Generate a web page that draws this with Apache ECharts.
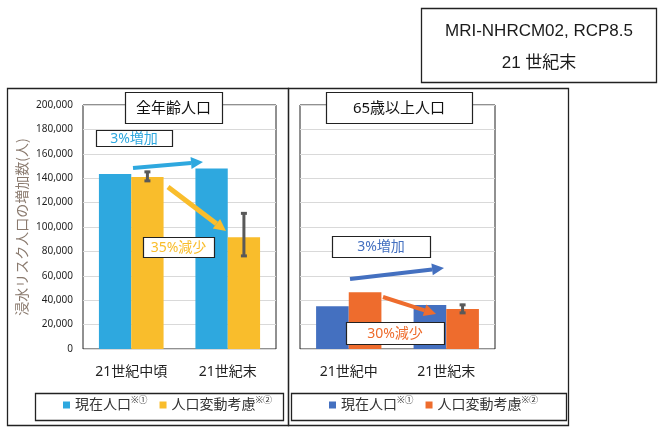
<!DOCTYPE html>
<html>
<head>
    <meta charset="utf-8">
    <title>浸水リスク人口</title>
    <script src="https://cdn.jsdelivr.net/npm/echarts@6/dist/echarts.min.js"></script>
    <style>
        html, body { margin: 0; padding: 0; background: #fff; }
    </style>
</head>
<body>
    <div id="main" style="width: 664px;height:434px;"></div>
    <script type="text/javascript">
        // 全年齢人口
        var catAll = ['21世紀中頃', '21世紀末'];
        var allCurrent = [143500, 148000];
        var allChange = [141000, 91500];
        var allChangeLow = [137000, 75500];
        var allChangeHigh = [146000, 112000];
        // 65歳以上人口
        var catOld = ['21世紀中', '21世紀末'];
        var oldCurrent = [35000, 36000];
        var oldChange = [46500, 32800];
        var oldChangeLow = [null, 28800];
        var oldChangeHigh = [null, 37000];
        // 軸・凡例
        var yTicks = [0, 20000, 40000, 60000, 80000, 100000, 120000, 140000, 160000, 180000, 200000];
        var seriesNames = ['現在人口', '人口変動考慮'];
        var seriesNotes = ['※①', '※②'];

        var FONT = "'Noto Sans', 'Noto Sans CJK JP', sans-serif";
        var C_BLUE = '#2EA8DF', C_YELLOW = '#F9BD2C';
        var C_BLUE2 = '#4470C0', C_ORANGE = '#EE6C2D';

        var myChart = echarts.init(document.getElementById('main'));

        function errorItem(low, high) {
            return low.map(function (v, i) {
                return v == null ? null : [i, v, high[i]];
            }).filter(function (d) { return d; });
        }

        // 誤差棒（2本目の棒の中心に描く）
        function renderError(params, api) {
            var band = api.size([1, 0])[0];
            var off = band * 0.67 / 4;
            var top = api.coord([api.value(0), api.value(2)]);
            var bot = api.coord([api.value(0), api.value(1)]);
            var x = top[0] + off;
            var st = { stroke: '#595959', lineWidth: 3 };
            return {
                type: 'group',
                children: [
                    { type: 'line', shape: { x1: x, y1: top[1], x2: x, y2: bot[1] }, style: st },
                    { type: 'line', shape: { x1: x - 3, y1: top[1] + 1, x2: x + 3, y2: top[1] + 1 }, style: st },
                    { type: 'line', shape: { x1: x - 3, y1: bot[1] - 1, x2: x + 3, y2: bot[1] - 1 }, style: st }
                ]
            };
        }

        function arrow(x1, y1, x2, y2, color, w) {
            var a = Math.atan2(y2 - y1, x2 - x1);
            var hl = 12, hw = 6;
            var bx = x2 - hl * Math.cos(a), by = y2 - hl * Math.sin(a);
            var nx = -Math.sin(a), ny = Math.cos(a);
            return [
                { type: 'line', z: 50, shape: { x1: x1, y1: y1, x2: bx, y2: by }, style: { stroke: color, lineWidth: w } },
                { type: 'polygon', z: 50, shape: { points: [[x2, y2], [bx + nx * hw, by + ny * hw], [bx - nx * hw, by - ny * hw]] }, style: { fill: color } }
            ];
        }

        function box(x, y, w, h, text, color, size) {
            return [
                { type: 'rect', z: 60, shape: { x: x + 0.5, y: y + 0.5, width: w, height: h }, style: { fill: '#fff', stroke: '#222', lineWidth: 1.2 } },
                { type: 'text', z: 61, x: x + w / 2, y: y + h / 2 + 1, style: { text: text, fill: color, fontSize: size, fontFamily: FONT, align: 'center', verticalAlign: 'middle' } }
            ];
        }

        function legendOpt(left, colors) {
            return {
                left: left, top: 396, padding: 0,
                icon: 'rect', itemWidth: 7, itemHeight: 7, itemGap: 12,
                selectedMode: false,
                data: seriesNames.map(function (n, i) { return { name: n, itemStyle: { color: colors[i] } }; }),
                formatter: function (name) {
                    return '{n|' + name + '}{s|' + seriesNotes[seriesNames.indexOf(name)] + '}';
                },
                textStyle: {
                    fontFamily: FONT, color: '#333',
                    rich: {
                        n: { fontSize: 14, fontFamily: FONT, color: '#333', lineHeight: 18 },
                        s: { fontSize: 9, fontFamily: FONT, color: '#333', verticalAlign: 'top', lineHeight: 18 }
                    }
                }
            };
        }

        var yAxisBase = {
            type: 'value', min: 0, max: 200000, interval: 20000,
            axisLine: { show: false }, axisTick: { show: false },
            splitLine: { lineStyle: { color: '#D9D9D9', width: 1 } }
        };
        var xAxisBase = {
            type: 'category',
            axisLine: { show: false }, axisTick: { show: false },
            axisLabel: { fontSize: 14, color: '#222', margin: 16, fontFamily: FONT }
        };

        var option = {
            animation: false,
            textStyle: { fontFamily: FONT },
            grid: [
                { left: 83, top: 105, width: 193, height: 244, show: true, borderColor: '#222', borderWidth: 1 },
                { left: 300, top: 105, width: 195, height: 244, show: true, borderColor: '#222', borderWidth: 1 }
            ],
            xAxis: [
                Object.assign({ gridIndex: 0, data: catAll }, xAxisBase),
                Object.assign({ gridIndex: 1, data: catOld }, xAxisBase)
            ],
            yAxis: [
                Object.assign({
                    gridIndex: 0,
                    name: '浸水リスク人口の増加数(人)', nameLocation: 'middle', nameRotate: 90, nameGap: 54,
                    nameTextStyle: { fontSize: 14, color: '#8A7A6E', fontFamily: "'Noto Sans CJK JP', sans-serif" },
                    axisLabel: {
                        fontSize: 10, color: '#1F1F1F', margin: 10,
                        formatter: function (v) { return yTicks.indexOf(v) >= 0 ? v.toLocaleString('en-US') : ''; }
                    }
                }, yAxisBase),
                Object.assign({ gridIndex: 1, axisLabel: { show: false } }, yAxisBase)
            ],
            legend: [legendOpt(63, [C_BLUE, C_YELLOW]), legendOpt(329, [C_BLUE2, C_ORANGE])],
            series: [
                { name: seriesNames[0], type: 'bar', xAxisIndex: 0, yAxisIndex: 0, data: allCurrent, barGap: '0%', barCategoryGap: '33%', itemStyle: { color: C_BLUE } },
                { name: seriesNames[1], type: 'bar', xAxisIndex: 0, yAxisIndex: 0, data: allChange, barGap: '0%', barCategoryGap: '33%', itemStyle: { color: C_YELLOW } },
                { type: 'custom', xAxisIndex: 0, yAxisIndex: 0, data: errorItem(allChangeLow, allChangeHigh), renderItem: renderError, z: 10 },
                { name: seriesNames[0], type: 'bar', xAxisIndex: 1, yAxisIndex: 1, data: oldCurrent, barGap: '0%', barCategoryGap: '33%', itemStyle: { color: C_BLUE2 } },
                { name: seriesNames[1], type: 'bar', xAxisIndex: 1, yAxisIndex: 1, data: oldChange, barGap: '0%', barCategoryGap: '33%', itemStyle: { color: C_ORANGE } },
                { type: 'custom', xAxisIndex: 1, yAxisIndex: 1, data: errorItem(oldChangeLow, oldChangeHigh), renderItem: renderError, z: 10 }
            ],
            graphic: [].concat(
                // 外枠
                { type: 'rect', z: 1, shape: { x: 7.5, y: 88.5, width: 281, height: 337 }, style: { fill: 'none', stroke: '#222', lineWidth: 1.3 } },
                { type: 'rect', z: 1, shape: { x: 288.5, y: 88.5, width: 280, height: 337 }, style: { fill: 'none', stroke: '#222', lineWidth: 1.3 } },
                { type: 'rect', z: 1, shape: { x: 35.5, y: 393.5, width: 248, height: 27 }, style: { fill: 'none', stroke: '#222', lineWidth: 1.3 } },
                { type: 'rect', z: 1, shape: { x: 291.5, y: 393.5, width: 275, height: 27 }, style: { fill: 'none', stroke: '#222', lineWidth: 1.3 } },
                // 右上の条件
                { type: 'rect', z: 1, shape: { x: 421.5, y: 8.5, width: 235, height: 74 }, style: { fill: '#fff', stroke: '#222', lineWidth: 1.3 } },
                { type: 'text', z: 2, x: 539, y: 31, style: { text: 'MRI-NHRCM02, RCP8.5', fontSize: 17, fontFamily: "'Liberation Sans', Arial, 'Noto Sans CJK JP'", fill: '#1a1a1a', align: 'center', verticalAlign: 'middle' } },
                { type: 'text', z: 2, x: 539, y: 63, style: { text: '21 世紀末', fontSize: 17, fontFamily: "'Liberation Sans', 'Noto Sans CJK JP'", fill: '#1a1a1a', align: 'center', verticalAlign: 'middle' } },
                // パネル見出し
                box(125, 92, 97, 31, '全年齢人口', '#111', 15),
                box(326, 92, 146, 31, '65歳以上人口', '#111', 15),
                // 矢印と注記
                arrow(133, 168, 203, 162, C_BLUE, 4),
                arrow(168, 187, 226, 231, C_YELLOW, 5),
                arrow(350, 279, 444, 268, C_BLUE2, 4),
                arrow(383, 297, 436, 314, C_ORANGE, 4),
                box(96, 130, 76, 16, '3%増加', C_BLUE, 14),
                box(143, 237, 71, 20, '35%減少', C_YELLOW, 14),
                box(332, 236, 98, 21, '3%増加', C_BLUE2, 14),
                box(346, 322, 98, 22, '30%減少', C_ORANGE, 14)
            )
        };

        myChart.setOption(option);
    </script>
</body>
</html>
